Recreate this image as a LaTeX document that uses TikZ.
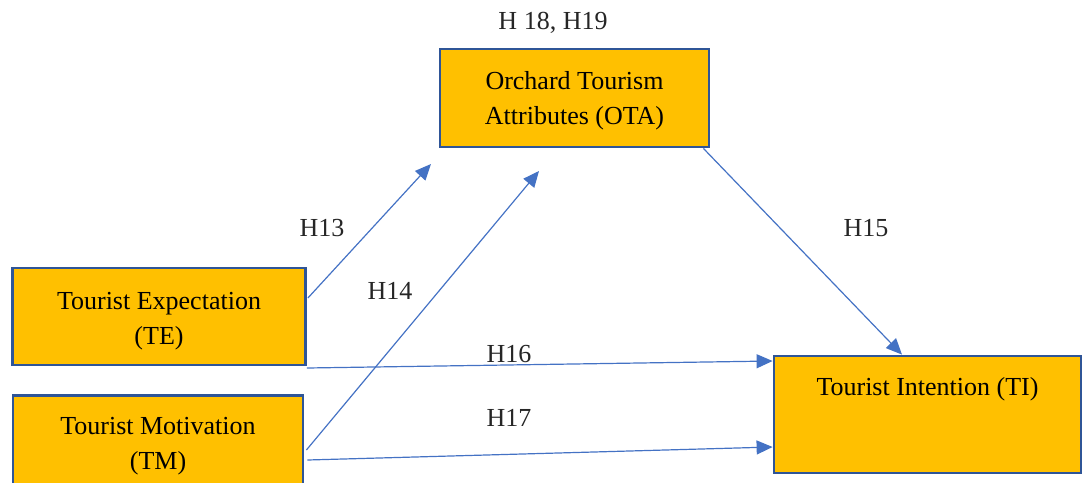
\documentclass[tikz,border=0pt]{standalone}
\usepackage{fontspec}
\setmainfont{Liberation Serif}
\usetikzlibrary{arrows.meta}
\definecolor{boxfill}{HTML}{FFC000}
\definecolor{boxline}{HTML}{2F5597}
\definecolor{arrowblue}{HTML}{4472C4}
\definecolor{labeltext}{HTML}{262626}
\begin{document}
\begin{tikzpicture}[x=1pt,y=-1pt,
  construct/.style={draw=boxline, line width=2.8pt, fill=boxfill, inner sep=0pt},
  boxtext/.style={align=center, inner sep=0pt, font=\fontsize{26}{35}\selectfont, text=black},
  path/.style={draw=arrowblue, line width=1.2pt,
    -{Triangle[length=16pt,width=14pt]}},
  hyp/.style={font=\fontsize{26}{30}\selectfont, text=labeltext}]
\clip (0,0) rectangle (1083,482);
\useasboundingbox (0,0) rectangle (1083,482);

% constructs
\node[construct, minimum width=293pt, minimum height=97pt] (te) at (159,316.5) {};
\node[construct, minimum width=290pt, minimum height=97pt] (tm) at (158,444) {};
\node[construct, minimum width=269pt, minimum height=98pt] (ota) at (574.5,98) {};
\node[construct, minimum width=307pt, minimum height=117pt] (ti) at (927.5,414.5) {};

% construct names
\node[boxtext] (tetext) at (159,321) {Tourist Expectation\\(TE)};
\node[boxtext] (tmtext) at (158,446) {Tourist Motivation\\(TM)};
\node[boxtext] (otatext) at (574.5,101) {Orchard Tourism\\Attributes (OTA)};
\node[boxtext] (titext) at (927.5,389) {Tourist Intention (TI)};

% free arrow ends pointing towards OTA
\coordinate (h13end) at (431,164);
\coordinate (h14end) at (539,171);

% hypothesised paths
\draw[path] ([xshift=1pt,yshift=18.5pt]te.east) -- (h13end);
\draw[path] ([xshift=2pt,yshift=-6pt]tm.east) -- (h14end);
\draw[path] ([xshift=-7pt]ota.south east) -- ([xshift=-25.5pt]ti.north);
\draw[path] ([yshift=-51.5pt]te.east) -- ([yshift=53.5pt]ti.west);
\draw[path] ([xshift=3pt,yshift=-16pt]tm.east) -- ([yshift=-32.5pt]ti.west);

% hypothesis labels
\node[hyp] (h1819) at (553,23) {H 18, H19};
\node[hyp] (h13) at (322,228) {H13};
\node[hyp] (h14) at (390,291) {H14};
\node[hyp] (h15) at (866,228) {H15};
\node[hyp] (h16) at (509,354) {H16};
\node[hyp] (h17) at (509,418) {H17};
\end{tikzpicture}
\end{document}
